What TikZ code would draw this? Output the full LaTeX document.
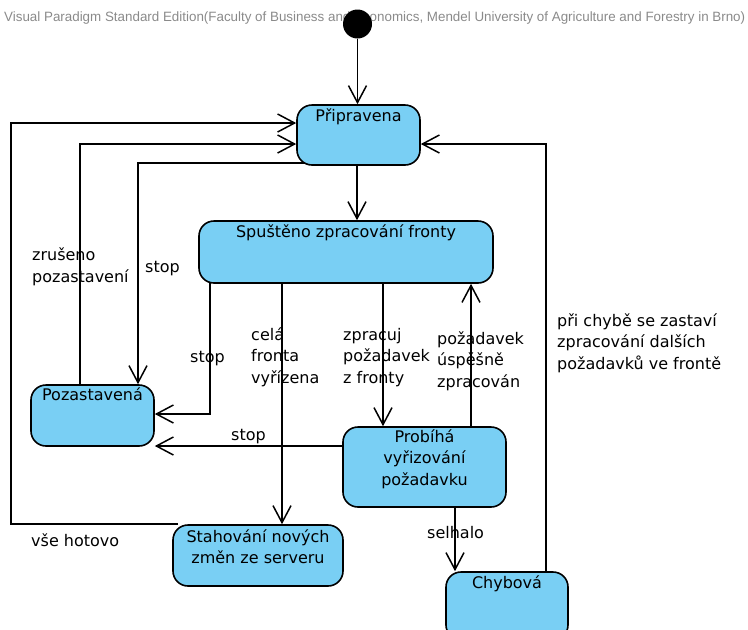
\documentclass[tikz,border=0pt]{standalone}
\usepackage{graphicx}
\usepackage{fontspec}
\setmainfont{DejaVu Sans}
\newfontfamily\headfont{Liberation Sans}
\usetikzlibrary{arrows.meta}
\pgfdeclarelayer{wires}
\pgfsetlayers{wires,main}
\definecolor{statefill}{HTML}{79CFF4}
\definecolor{headgray}{HTML}{8A8A8A}

\begin{document}
\begin{tikzpicture}[x=1pt,y=-1pt,
  statebox/.style={draw=black, line width=1.6pt, fill=statefill,
    rounded corners=15pt, inner sep=0pt},
  title/.style={anchor=base, font=\fontsize{16}{21.5}\selectfont, inner sep=0pt},
  wire/.style={line width=1.5pt, -{Straight Barb[length=17pt,width=18pt]}},
  lbl/.style={anchor=base west, align=left,
    font=\fontsize{16}{21.5}\selectfont, inner sep=0pt},
]
\useasboundingbox (0,0) rectangle (748,630);

% tool banner
\node[anchor=base west, inner sep=0pt, text=headgray,
  font=\headfont\fontsize{13.5}{15}\selectfont] (hdr) at (4,21)
  {\resizebox{741pt}{\height}{Visual Paradigm Standard Edition(Faculty of Business and Economics, Mendel University of Agriculture and Forestry in Brno)}};

% initial pseudo-state
\node[circle, fill=black, minimum size=29pt, inner sep=0pt] (init) at (357.5,24) {};

% states
\node[statebox, minimum width=123pt, minimum height=60pt] (prip) at (358.5,135) {};
\node[title] (prip-t) at ([yshift=-17pt]prip.north) {Připravena};

\node[statebox, minimum width=294pt, minimum height=62pt] (spust) at (346,252) {};
\node[title] (spust-t) at ([yshift=-17pt]spust.north) {Spuštěno zpracování fronty};

\node[statebox, minimum width=123pt, minimum height=61pt] (pozas) at (92.5,415.5) {};
\node[title] (pozas-t) at ([yshift=-16pt]pozas.north) {Pozastavená};

% multi-line titles: the base anchor sits on the last line
\node[statebox, minimum width=163pt, minimum height=80pt] (prob) at (424.5,467) {};
\node[title, align=center] (prob-t) at ([yshift=-59pt]prob.north) {Probíhá\\vyřizování\\požadavku};

\node[statebox, minimum width=170pt, minimum height=61pt] (stah) at (258,555.5) {};
\node[title, align=center] (stah-t) at ([yshift=-39.5pt]stah.north) {Stahování nových\\změn ze serveru};

\node[statebox, minimum width=122pt, minimum height=68pt] (chyb) at (507,606) {};
\node[title] (chyb-t) at ([yshift=-17pt]chyb.north) {Chybová};

% transitions
\begin{pgfonlayer}{wires}
\draw[wire] (init) -- (init |- prip.north);
\coordinate (c0) at ([xshift=-1.5pt]prip.center);
\draw[wire] (c0) -- (c0 |- spust.north);
% all done
\draw[wire] ([xshift=6pt]stah.north west) -- ++(-167,0) |- ([yshift=12pt]prip.west);
% pause cancelled
\draw[wire] ([xshift=-12.5pt,yshift=-5pt]pozas.north) |- ([yshift=-9pt]prip.west);
% stop while ready
\draw[wire] ([xshift=10pt,yshift=-28pt]prip.west) -| ([xshift=45.5pt]pozas.north);
% stop while processing the queue
\draw[wire] ([xshift=12pt,yshift=5pt]spust.south west) |- ([yshift=1.5pt]pozas.east);
% whole queue done
\coordinate (c1) at ([xshift=24pt]stah.north);
\draw[wire] (c1 |- spust.center) -- (c1);
% take request from queue
\coordinate (c2) at ([xshift=-41.5pt]prob.north);
\draw[wire] (c2 |- spust.center) -- (c2);
% request processed
\coordinate (c3) at ([xshift=46.5pt]prob.north);
\draw[wire] (c3 |- prob.center) -- (c3 |- spust.south);
% stop while handling a request
\coordinate (c4) at ([yshift=21pt]prob.west);
\draw[wire] ([xshift=10pt]c4) -- (c4 -| pozas.east);
% failed
\coordinate (c5) at ([xshift=-52pt]chyb.north);
\draw[wire] (c5 |- prob.center) -- (c5);
% error back to ready
\draw[wire] ([xshift=39pt,yshift=-5pt]chyb.north) |- ([yshift=-9pt]prip.east);
\end{pgfonlayer}

% transition labels (base anchor = baseline of the last line)
\node[lbl] (l1) at (32,282) {zrušeno\\pozastavení};
\node[lbl] (l2) at (145,272) {stop};
\node[lbl] (l3) at (190,362) {stop};
\node[lbl] (l4) at (251,383) {celá\\fronta\\vyřízena};
\node[lbl] (l5) at (343,383) {zpracuj\\požadavek\\z fronty};
\node[lbl] (l6) at (437,387) {požadavek\\úspěšně\\zpracován};
\node[lbl] (l7) at (557,369) {při chybě se zastaví\\zpracování dalších\\požadavků ve frontě};
\node[lbl] (l8) at (231,440) {stop};
\node[lbl] (l9) at (31,546) {vše hotovo};
\node[lbl] (l10) at (427,538) {selhalo};
\end{tikzpicture}
\end{document}
